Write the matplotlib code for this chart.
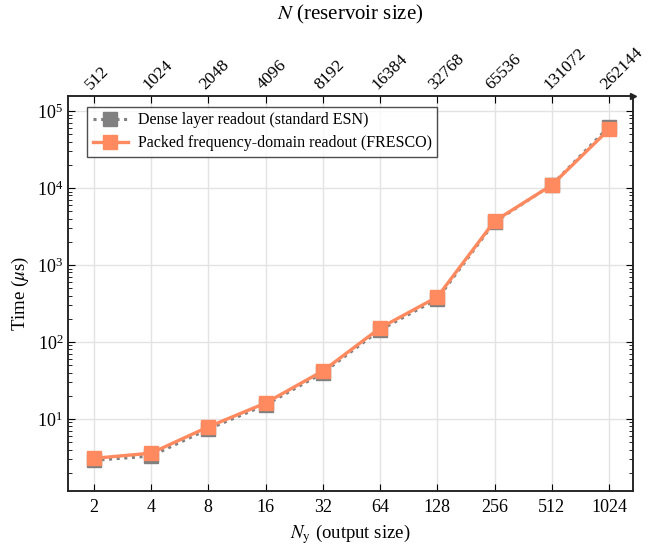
import numpy as np
import matplotlib
matplotlib.use("Agg")
import matplotlib.pyplot as plt

plt.rcParams['font.family'] = ['Liberation Serif', 'DejaVu Serif']
plt.rcParams['mathtext.fontset'] = 'stix'

# output sizes (bottom axis) and reservoir sizes (top axis)
ny_labels = ['2', '4', '8', '16', '32', '64', '128', '256', '512', '1024']
n_labels = ['512', '1024', '2048', '4096', '8192', '16384', '32768',
            '65536', '131072', '262144']

# time in microseconds
dense_time = [2.9, 3.3, 7.4, 15.2, 39.6, 143, 361, 3600, 11000, 62500]
fresco_time = [3.08, 3.6, 7.9, 16.1, 42, 152, 384, 3720, 10900, 57800]

x = np.arange(len(ny_labels))

fig = plt.figure(figsize=(6.48, 5.48), dpi=100)
ax = fig.add_axes([0.105, 0.104, 0.872, 0.721])

ax.plot(x, dense_time, color='#808080', linestyle=(0, (1, 1.5)), linewidth=2.2,
        marker='s', markersize=9.5, markerfacecolor='#808080',
        markeredgecolor='#808080', label='Dense layer readout (standard ESN)')
ax.plot(x, fresco_time, color='#FF8A5F', linewidth=2.4,
        marker='s', markersize=9.5, markerfacecolor='#FF8A5F',
        markeredgecolor='#FF8A5F',
        label='Packed frequency-domain readout (FRESCO)')

ax.set_yscale('log')
ax.set_ylim(1.16, 1.57e5)
ax.set_xlim(-0.45, 9.42)
ax.set_xticks(x)
ax.set_xticklabels(ny_labels)

ax.grid(True, which='major', color='#e3e3e3', linewidth=1)
ax.set_axisbelow(True)
ax.tick_params(axis='both', which='both', direction='in', labelsize=13)
ax.tick_params(axis='y', which='both', right=True)
ax.tick_params(axis='y', which='major', length=5)
ax.tick_params(axis='y', which='minor', length=3)
ax.tick_params(axis='x', which='major', length=5, pad=6)

ax.set_xlabel(r'$N_\mathrm{y}$ (output size)', fontsize=13.5)
ax.set_ylabel(r'Time ($\mu$s)', fontsize=13.5)

ax2 = ax.twiny()
ax2.set_xlim(ax.get_xlim())
ax2.set_xticks(x)
ax2.set_xticklabels(n_labels, rotation=45, ha='left', va='bottom',
                    rotation_mode='anchor', fontsize=12.5)
ax2.tick_params(axis='x', direction='in', length=5, pad=2)
ax2.set_xlabel(r'$N$ (reservoir size)', fontsize=15, labelpad=18)

for a in (ax, ax2):
    for s in a.spines.values():
        s.set_linewidth(1.1)
        s.set_color('#222222')

# arrow on the right end of the top axis
ax2.plot(1.0, 1.0, marker='>', color='#222222', markersize=5,
         transform=ax2.transAxes, clip_on=False)

leg = ax.legend(loc='upper left', bbox_to_anchor=(0.02, 0.993), fontsize=11.5,
                frameon=True, fancybox=False, edgecolor='#222222',
                borderpad=0.35, handlelength=2.2, labelspacing=0.45,
                handletextpad=0.6)
leg.get_frame().set_linewidth(1.0)

fig.savefig('out.png', dpi=100)
